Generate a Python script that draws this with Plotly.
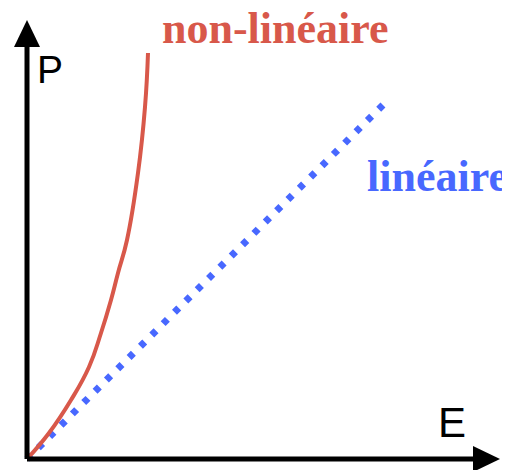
import plotly.graph_objects as go

# { data (arbitrary units)
E_nonlin = [0, 22, 44, 62, 74, 84, 91, 100, 111, 118, 121]
P_nonlin = [0, 26, 59, 92, 126, 159, 186, 219, 286, 352, 406]

E_lin = [0, 356]
P_lin = [0, 354]

E_axis_max = 473
P_axis_max = 439
# }

RED = 'rgb(216,88,74)'
BLUE = 'rgb(72,104,255)'

fig = go.Figure()

fig.add_trace(go.Scatter(x=E_lin, y=P_lin, mode='lines',
                         line=dict(color=BLUE, width=7, dash='6px,10px'),
                         showlegend=False, hoverinfo='skip'))

fig.add_trace(go.Scatter(x=E_nonlin, y=P_nonlin, mode='lines',
                         line=dict(color=RED, width=4, shape='spline',
                                   smoothing=1.3),
                         showlegend=False, hoverinfo='skip'))

# { axes with arrows
head_len = 27
head_half = 13
shapes = [
    dict(type='line', x0=0, y0=0, x1=E_axis_max - head_len + 2, y1=0,
         line=dict(color='black', width=5)),
    dict(type='line', x0=0, y0=0, x1=0, y1=P_axis_max - head_len + 2,
         line=dict(color='black', width=5)),
    dict(type='path',
         path=f'M {E_axis_max - head_len} {-head_half} L {E_axis_max} 0 '
              f'L {E_axis_max - head_len} {head_half} Z',
         fillcolor='black', line=dict(color='black', width=0)),
    dict(type='path',
         path=f'M {-head_half} {P_axis_max - head_len} L 0 {P_axis_max} '
              f'L {head_half} {P_axis_max - head_len} Z',
         fillcolor='black', line=dict(color='black', width=0)),
]
# }

annotations = [
    dict(x=23, y=390, text='P', showarrow=False,
         font=dict(family='Liberation Sans', size=39, color='black')),
    dict(x=425, y=37, text='E', showarrow=False,
         font=dict(family='Liberation Sans', size=42, color='black')),
    dict(x=133, y=431, text='<b>non-linéaire</b>', showarrow=False,
         xanchor='left',
         font=dict(family='Liberation Serif', size=44, color=RED)),
    dict(x=338, y=283, text='<b>linéaire</b>', showarrow=False,
         xanchor='left',
         font=dict(family='Liberation Serif', size=44, color=BLUE)),
]

# page body has an 8px margin, so the figure is 8px smaller and shifted
fig.update_layout(
    width=502, height=462,
    margin=dict(l=0, r=0, t=0, b=0),
    paper_bgcolor='white', plot_bgcolor='white',
    xaxis=dict(range=[-19, 483], visible=False, fixedrange=True),
    yaxis=dict(range=[-11, 451], visible=False, fixedrange=True),
    shapes=shapes, annotations=annotations,
)

fig.write_html("out.html")
